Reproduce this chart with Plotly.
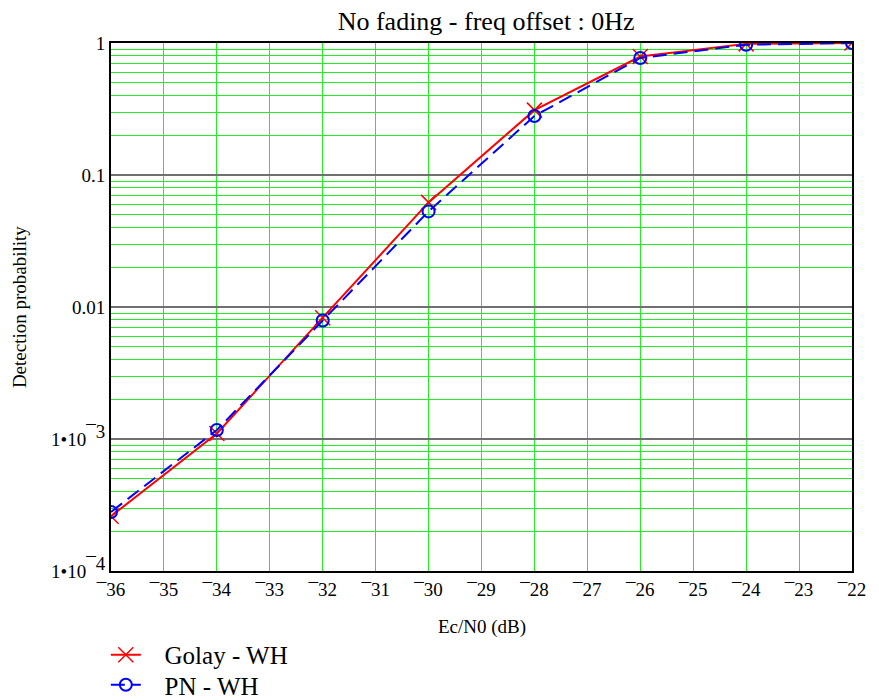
import plotly.graph_objects as go

ecn0 = [-36, -34, -32, -30, -28, -26, -24, -22]
golay_wh = [2.6e-4, 1.10e-3, 8.3e-3, 0.062, 0.31, 0.79, 0.985, 1.0]
pn_wh = [2.8e-4, 1.17e-3, 7.9e-3, 0.053, 0.28, 0.77, 0.97, 1.0]

x_ticks = list(range(-36, -21))
x_ticktext = ["\u00af" + str(-v) for v in x_ticks]
decades = [1e-4, 1e-3, 1e-2, 1e-1, 1]
decade_text = [
    "1\u202210<sup><span style='font-size:19px'>\u00af4</span></sup>",
    "1\u202210<sup><span style='font-size:19px'>\u00af3</span></sup>",
    "0.01", "0.1", "1",
]

font = "Liberation Serif"
green = "#22ee22"
pad = "\u00a0\u00a0\u00a0"

fig = go.Figure()
fig.add_trace(go.Scatter(
    x=ecn0, y=golay_wh, name=pad + "Golay - WH", legend="legend",
    mode="lines+markers",
    line=dict(color="#ff0000", width=2),
    marker=dict(symbol="x-thin-open", size=15, line=dict(color="#ff0000", width=1.5)),
))
fig.add_trace(go.Scatter(
    x=ecn0, y=pn_wh, name=pad + "PN - WH", legend="legend2",
    mode="lines+markers",
    line=dict(color="#0000ff", width=2, dash="14px,7px"),
    marker=dict(symbol="circle-open", size=12, line=dict(color="#0000ff", width=2)),
))

leg_common = dict(xanchor="left", yanchor="middle", font=dict(size=25, family=font),
                  bgcolor="rgba(0,0,0,0)", itemwidth=30)

fig.update_layout(
    width=879, height=700,
    margin=dict(l=103, r=35, t=35, b=137, autoexpand=False),
    paper_bgcolor="white", plot_bgcolor="white",
    font=dict(family=font, color="black"),
    title=dict(text="No fading - freq offset : 0Hz", x=0.544, xanchor="center",
               y=0.995, yanchor="top", font=dict(size=26)),
    xaxis=dict(range=[-36, -22], tickvals=x_ticks, ticktext=x_ticktext,
               showgrid=True, gridcolor=green, gridwidth=1, zeroline=False,
               showline=True, linecolor="black", linewidth=2, mirror=True,
               ticks="", tickfont=dict(size=19)),
    yaxis=dict(type="log", range=[-4, 0], tickvals=decades, ticktext=decade_text,
               showgrid=True, gridcolor="#707070", gridwidth=1.5, zeroline=False,
               minor=dict(dtick="D1", showgrid=True, gridcolor=green, gridwidth=1, ticks=""),
               showline=True, linecolor="black", linewidth=2, mirror=True, ticks="",
               tickfont=dict(size=19)),
    legend=dict(x=-0.007, y=-0.159, **leg_common),
    legend2=dict(x=-0.007, y=-0.216, **leg_common),
    showlegend=True,
    annotations=[
        dict(text="Ec/N0 (dB)", xref="paper", yref="paper", x=0.5, y=-0.106,
             xanchor="center", yanchor="middle", showarrow=False, font=dict(size=19)),
        dict(text="Detection probability", xref="paper", yref="paper", x=-0.124, y=0.5,
             xanchor="center", yanchor="middle", textangle=-90, showarrow=False,
             font=dict(size=19)),
    ],
)

fig.write_html("out.html")
